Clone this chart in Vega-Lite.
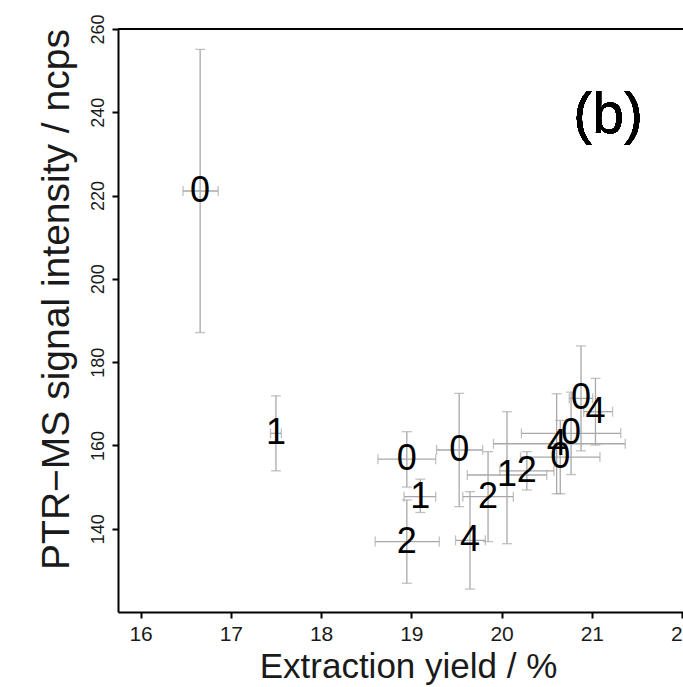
{
  "$schema": "https://vega.github.io/schema/vega-lite/v6.json",
  "usermeta": {"embedOptions": {"actions": false}},
  "autosize": {"type": "none"},
  "width": 565,
  "height": 583,
  "padding": {"left": 118, "top": 29, "right": 0, "bottom": 75},
  "background": "white",
  "config": {
    "view": {"stroke": null},
    "style": {
      "guide-label": {"font": "Liberation Sans", "fill": "#1a1a1a"},
      "guide-title": {"font": "Liberation Sans", "fill": "#1a1a1a", "fontWeight": "normal"}
    },
    "axis": {
      "grid": false,
      "domainColor": "black",
      "domainWidth": 2,
      "tickColor": "black",
      "tickWidth": 2,
      "tickSize": 6,
      "labelFont": "Liberation Sans",
      "titleFont": "Liberation Sans",
      "labelColor": "#1a1a1a",
      "titleColor": "#1a1a1a",
      "titleFontWeight": "normal",
      "labelFlush": false,
      "labelOverlap": false
    },
    "axisX": {"labelFontSize": 21, "labelPadding": 5},
    "axisY": {"labelFontSize": 18, "labelAngle": 270, "labelAlign": "center", "labelBaseline": "alphabetic", "labelPadding": 9},
    "text": {"font": "Liberation Sans"}
  },
  "data": {
    "values": [
      {"label": "0", "x": 16.66, "y": 221.1, "xlo": 16.47, "xhi": 16.86, "ylo": 187.1, "yhi": 255.1},
      {"label": "1", "x": 17.50, "y": 162.9, "xlo": 17.44, "xhi": 17.56, "ylo": 153.9, "yhi": 171.9},
      {"label": "0", "x": 18.95, "y": 156.7, "xlo": 18.63, "xhi": 19.27, "ylo": 150.0, "yhi": 163.3},
      {"label": "1", "x": 19.10, "y": 147.7, "xlo": 18.92, "xhi": 19.27, "ylo": 143.9, "yhi": 151.9},
      {"label": "2", "x": 18.95, "y": 136.9, "xlo": 18.60, "xhi": 19.31, "ylo": 126.9, "yhi": 146.9},
      {"label": "0", "x": 19.53, "y": 158.9, "xlo": 19.28, "xhi": 19.79, "ylo": 145.3, "yhi": 172.5},
      {"label": "4", "x": 19.65, "y": 137.2, "xlo": 19.49, "xhi": 19.82, "ylo": 125.5, "yhi": 148.9},
      {"label": "2", "x": 19.85, "y": 147.7, "xlo": 19.57, "xhi": 20.13, "ylo": 136.9, "yhi": 158.5},
      {"label": "1", "x": 20.06, "y": 152.9, "xlo": 19.62, "xhi": 20.50, "ylo": 136.4, "yhi": 168.1},
      {"label": "2", "x": 20.28, "y": 153.9, "xlo": 19.98, "xhi": 20.58, "ylo": 149.3, "yhi": 158.5},
      {"label": "0", "x": 20.65, "y": 157.2, "xlo": 20.21, "xhi": 21.09, "ylo": 148.4, "yhi": 166.0},
      {"label": "4", "x": 20.61, "y": 160.4, "xlo": 19.91, "xhi": 21.37, "ylo": 148.4, "yhi": 172.4},
      {"label": "0", "x": 20.77, "y": 162.9, "xlo": 20.22, "xhi": 21.32, "ylo": 153.0, "yhi": 172.8},
      {"label": "0", "x": 20.88, "y": 171.3, "xlo": 20.75, "xhi": 21.01, "ylo": 158.7, "yhi": 183.9},
      {"label": "4", "x": 21.04, "y": 168.1, "xlo": 20.91, "xhi": 21.23, "ylo": 160.1, "yhi": 176.1}
    ]
  },
  "layer": [
    {
      "mark": {"type": "rule", "color": "#a8a8a8", "strokeWidth": 1.3},
      "encoding": {
        "x": {"field": "x", "type": "quantitative", "scale": {"domain": [15.75, 22.01], "nice": false, "zero": false},
          "axis": {"values": [16, 17, 18, 19, 20, 21, 22], "format": "d", "labelFontSize": 21, "labelPadding": 5,
            "title": "Extraction yield / %", "titleFontSize": 35, "titleX": 290, "titleY": 65, "titleBaseline": "alphabetic", "titleAlign": "center"}},
        "y": {"field": "ylo", "type": "quantitative", "scale": {"domain": [120, 260], "nice": false, "zero": false},
          "axis": {"values": [140, 160, 180, 200, 220, 240, 260], "format": "d", "labelFontSize": 18, "labelAngle": 270, "labelAlign": "center", "labelBaseline": "alphabetic", "labelPadding": 9,
            "title": "PTR\u2212MS signal intensity / ncps", "titleFontSize": 39, "titleAngle": 270, "titleX": -50, "titleY": 270, "titleBaseline": "alphabetic", "titleAlign": "center"}},
        "y2": {"field": "yhi"}
      }
    },
    {
      "mark": {"type": "tick", "orient": "horizontal", "color": "#a8a8a8", "size": 10, "thickness": 1.3},
      "encoding": {"x": {"field": "x", "type": "quantitative"}, "y": {"field": "ylo", "type": "quantitative"}}
    },
    {
      "mark": {"type": "tick", "orient": "horizontal", "color": "#a8a8a8", "size": 10, "thickness": 1.3},
      "encoding": {"x": {"field": "x", "type": "quantitative"}, "y": {"field": "yhi", "type": "quantitative"}}
    },
    {
      "mark": {"type": "rule", "color": "#a8a8a8", "strokeWidth": 1.3},
      "encoding": {"y": {"field": "y", "type": "quantitative"}, "x": {"field": "xlo", "type": "quantitative"}, "x2": {"field": "xhi"}}
    },
    {
      "mark": {"type": "tick", "orient": "vertical", "color": "#a8a8a8", "size": 10, "thickness": 1.3},
      "encoding": {"x": {"field": "xlo", "type": "quantitative"}, "y": {"field": "y", "type": "quantitative"}}
    },
    {
      "mark": {"type": "tick", "orient": "vertical", "color": "#a8a8a8", "size": 10, "thickness": 1.3},
      "encoding": {"x": {"field": "xhi", "type": "quantitative"}, "y": {"field": "y", "type": "quantitative"}}
    },
    {
      "mark": {"type": "rule", "color": "black", "strokeWidth": 2},
      "encoding": {"y": {"datum": 260, "type": "quantitative"}}
    },
    {
      "mark": {"type": "text", "fontSize": 36, "color": "black", "baseline": "middle", "align": "center"},
      "encoding": {
        "x": {"field": "x", "type": "quantitative"},
        "y": {"field": "y", "type": "quantitative"},
        "text": {"field": "label"}
      }
    },
    {
      "mark": {"type": "text", "fontSize": 57, "color": "black", "baseline": "middle", "align": "center"},
      "encoding": {
        "x": {"datum": 21.18, "type": "quantitative"},
        "y": {"datum": 239, "type": "quantitative"},
        "text": {"value": "(b)"}
      }
    }
  ]
}
